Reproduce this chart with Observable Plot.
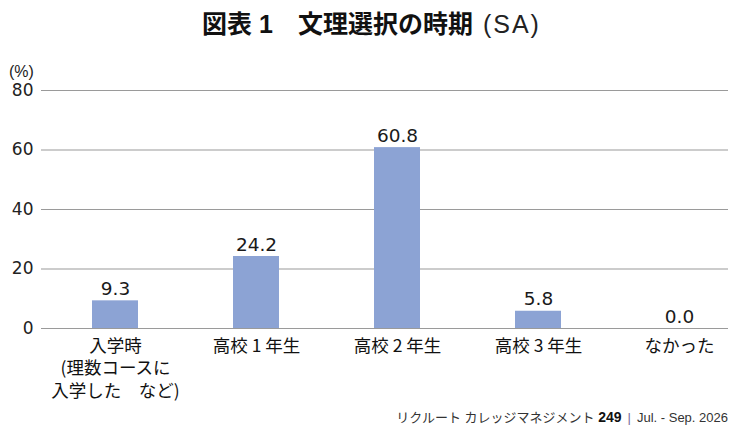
<!DOCTYPE html>
<html><head><meta charset="utf-8">
<script src="https://cdn.jsdelivr.net/npm/d3@7"></script>
<script src="https://cdn.jsdelivr.net/npm/@observablehq/plot@0.6"></script>
<style>
body{margin:0;background:#fff;font-family:"DejaVu Sans","Noto Sans CJK JP",sans-serif;}
#wrap{width:743px;height:431px;position:relative;overflow:hidden;}
#title{position:absolute;top:7px;left:0;width:743px;text-align:center;font-size:25px;color:#111;line-height:34px;font-family:"Liberation Sans","Noto Sans CJK JP",sans-serif;}
#title b{font-weight:bold;}
#title span{font-weight:normal;color:#222;font-size:25px;margin-left:10px;letter-spacing:2px;font-family:"Liberation Sans",sans-serif;}
#unit{position:absolute;left:9px;top:63px;font-size:16px;color:#222;z-index:2;font-family:"Liberation Sans","Noto Sans CJK JP",sans-serif;}
#chart{position:absolute;top:50px;left:0;z-index:1;}
#footer{position:absolute;right:15px;top:407px;font-size:13px;color:#333;font-family:"Liberation Sans","Noto Sans CJK JP",sans-serif;}
#footer b{color:#111;font-size:14px}
#footer i{font-style:normal;color:#7a6a9a;margin:0 6px;}
</style></head>
<body><div id="wrap">
<div id="title"><b>図表 1　文理選択の時期</b><span>(SA)</span></div>
<div id="unit"></div>
<div id="chart"></div>
<div id="footer">リクルート カレッジマネジメント <b>249</b><i>|</i>Jul. - Sep. 2026</div>
</div>
<script>
const categories = ["入学時\n(理数コースに\n入学した　など)", "高校 1 年生", "高校 2 年生", "高校 3 年生", "なかった"];
const values = [9.3, 24.2, 60.8, 5.8, 0.0];
const yTicks = [0, 20, 40, 60, 80];
const yLabel = "(%)";

document.getElementById("unit").textContent = yLabel;
const data = categories.map((c, i) => ({cat: c, v: values[i]}));
const font = '"DejaVu Sans","Noto Sans CJK JP",sans-serif';

const chart = Plot.plot({
  width: 743,
  height: 355,
  marginLeft: 41,
  marginRight: 15,
  marginTop: 40,
  marginBottom: 77,
  style: {fontFamily: font, fontSize: "17px", color: "#222", background: "transparent"},
  x: {domain: categories, range: [43, 751], paddingInner: 0.675, paddingOuter: 0.3375},
  y: {domain: [0, 80]},
  marks: [
    Plot.ruleY(yTicks, {stroke: "#9a9a9a", strokeWidth: 1.2}),
    Plot.barY(data, {x: "cat", y: "v", fill: "#8ca3d4"}),
    Plot.text(data, {x: "cat", y: "v", text: d => d.v.toFixed(1), lineAnchor: "bottom", dy: -6, fontSize: 18.5, fill: "#1a1a1a"}),
    Plot.axisY(yTicks, {tickSize: 0, tickPadding: 8, fontSize: 17, fill: "#222", label: null}),
    Plot.axisX({tickSize: 0, tickPadding: 7, fontSize: 17.5, lineHeight: 1.29, fill: "#111", label: null, fontFamily: '"Noto Sans CJK JP",sans-serif'})
  ]
});
document.getElementById("chart").appendChild(chart);
</script>
</body></html>
